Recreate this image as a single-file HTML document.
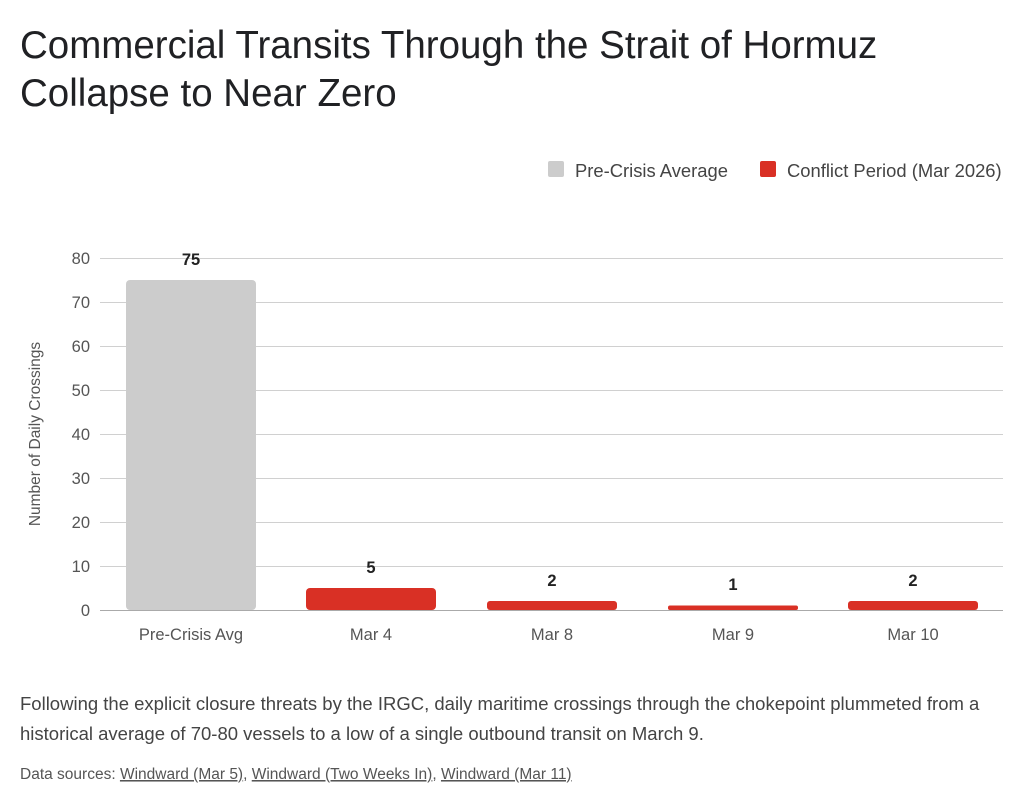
<!DOCTYPE html>
<html><head><meta charset="utf-8"><style>
body{margin:0;background:#fff;width:1024px;height:805px;overflow:hidden;font-family:"Liberation Sans",sans-serif;}
</style></head><body>
<svg width="1024" height="805" xmlns="http://www.w3.org/2000/svg" font-family="Liberation Sans, sans-serif">
<text x="20" y="58" font-size="38.5" fill="#202124">Commercial Transits Through the Strait of Hormuz</text>
<text x="20" y="106" font-size="38.5" fill="#202124">Collapse to Near Zero</text>
<rect x="548" y="161" width="16" height="16" rx="2" fill="#cccccc"/>
<text x="575" y="177" font-size="18.4" fill="#444">Pre-Crisis Average</text>
<rect x="760" y="161" width="16" height="16" rx="2" fill="#d93025"/>
<text x="787" y="177" font-size="18.4" fill="#444">Conflict Period (Mar 2026)</text>
<g stroke="#d0d0d0" stroke-width="1">
<line x1="100" x2="1003" y1="258.5" y2="258.5"/><line x1="100" x2="1003" y1="302.5" y2="302.5"/>
<line x1="100" x2="1003" y1="346.5" y2="346.5"/><line x1="100" x2="1003" y1="390.5" y2="390.5"/>
<line x1="100" x2="1003" y1="434.5" y2="434.5"/><line x1="100" x2="1003" y1="478.5" y2="478.5"/>
<line x1="100" x2="1003" y1="522.5" y2="522.5"/><line x1="100" x2="1003" y1="566.5" y2="566.5"/>
</g>
<line x1="100" x2="1003" y1="610.5" y2="610.5" stroke="#aaa"/>
<g font-size="16.5" fill="#555" text-anchor="end">
<text x="90" y="264">80</text><text x="90" y="308">70</text><text x="90" y="352">60</text><text x="90" y="396">50</text>
<text x="90" y="440">40</text><text x="90" y="484">30</text><text x="90" y="528">20</text><text x="90" y="572">10</text><text x="90" y="616">0</text>
</g>
<text transform="translate(40,434) rotate(-90)" font-size="15.5" fill="#555" text-anchor="middle">Number of Daily Crossings</text>
<rect x="126" y="280" width="130" height="330" rx="4" fill="#cccccc"/>
<rect x="306" y="588" width="130" height="22" rx="4" fill="#d93025"/>
<rect x="487" y="601" width="130" height="9" rx="3" fill="#d93025"/>
<rect x="668" y="605.5" width="130" height="4.5" rx="2" fill="#d93025"/>
<rect x="848" y="601" width="130" height="9" rx="3" fill="#d93025"/>
<g font-size="16.5" font-weight="bold" fill="#222" text-anchor="middle">
<text x="191" y="265">75</text><text x="371" y="573">5</text><text x="552" y="586">2</text><text x="733" y="590">1</text><text x="913" y="586">2</text>
</g>
<g font-size="16.5" fill="#555" text-anchor="middle">
<text x="191" y="640">Pre-Crisis Avg</text><text x="371" y="640">Mar 4</text><text x="552" y="640">Mar 8</text><text x="733" y="640">Mar 9</text><text x="913" y="640">Mar 10</text>
</g>
<text x="20" y="710" font-size="18.5" fill="#444">Following the explicit closure threats by the IRGC, daily maritime crossings through the chokepoint plummeted from a</text>
<text x="20" y="740" font-size="18.5" fill="#444">historical average of 70-80 vessels to a low of a single outbound transit on March 9.</text>
<text x="20" y="779" font-size="15.5" fill="#555">Data sources: <tspan text-decoration="underline">Windward (Mar 5)</tspan>, <tspan text-decoration="underline">Windward (Two Weeks In)</tspan>, <tspan text-decoration="underline">Windward (Mar 11)</tspan></text>
</svg>
</body></html>
